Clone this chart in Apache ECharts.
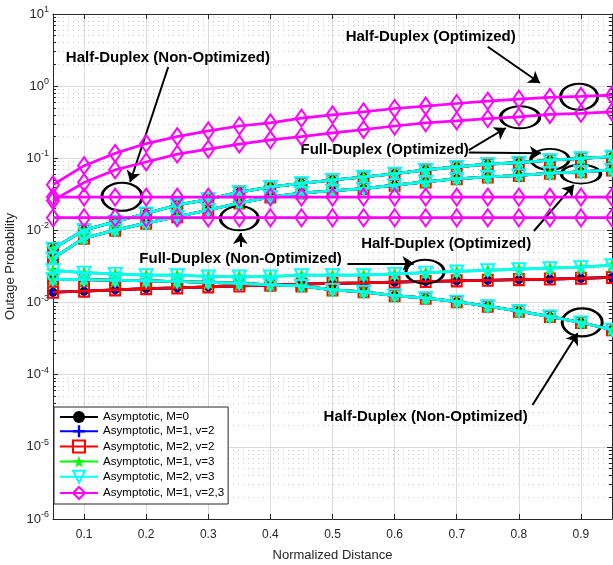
<!DOCTYPE html>
<html>
<head>
  <meta charset="utf-8" />
  <title>Outage Probability vs Normalized Distance</title>
  <script src="https://cdn.jsdelivr.net/npm/echarts@6/dist/echarts.min.js"></script>
</head>
<style type="text/css">
  body {
    margin: 0;
    background: #fff;
  }

  #main {
    width: 613px;
    height: 565px;
  }
</style>

<body>
  <div id="main"></div>
  <script>
    // ---- data ----
    var distance = [0.05, 0.10, 0.15, 0.20, 0.25, 0.30, 0.35, 0.40, 0.45, 0.50,
      0.55, 0.60, 0.65, 0.70, 0.75, 0.80, 0.85, 0.90, 0.95];
    var xTicks = [0.1, 0.2, 0.3, 0.4, 0.5, 0.6, 0.7, 0.8, 0.9];

    // M=1, v=2,3 (magenta)
    var hdOptMag = [0.043, 0.079, 0.117, 0.16, 0.20, 0.24, 0.28, 0.31, 0.36, 0.40,
      0.44, 0.49, 0.53, 0.575, 0.62, 0.66, 0.70, 0.72, 0.75];
    var fdOptMag = [0.026, 0.046, 0.069, 0.089, 0.114, 0.134, 0.157, 0.18, 0.20, 0.225,
      0.25, 0.28, 0.31, 0.33, 0.355, 0.375, 0.405, 0.42, 0.44];
    var hdNonOptMag = [0.029, 0.029, 0.029, 0.029, 0.029, 0.029, 0.029, 0.029, 0.029, 0.029,
      0.029, 0.029, 0.029, 0.029, 0.029, 0.029, 0.029, 0.029, 0.029];
    var fdNonOptMag = [0.015, 0.015, 0.015, 0.015, 0.015, 0.015, 0.015, 0.015, 0.015, 0.015,
      0.015, 0.015, 0.015, 0.015, 0.015, 0.015, 0.015, 0.015, 0.015];

    // other cases (overlapping black / blue / red / green / cyan)
    var fdOpt = [0.0056, 0.0101, 0.0132, 0.0172, 0.0225, 0.027, 0.034, 0.040, 0.045, 0.050,
      0.055, 0.061, 0.069, 0.076, 0.083, 0.087, 0.094, 0.100, 0.105];
    var hdOpt = [0.0041, 0.0078, 0.0101, 0.0126, 0.0155, 0.0192, 0.024, 0.029, 0.033, 0.0355,
      0.038, 0.0425, 0.047, 0.052, 0.055, 0.058, 0.062, 0.065, 0.069];
    var fdNonOptV3 = [0.0028, 0.0026, 0.0025, 0.0024, 0.0024, 0.0023, 0.0023, 0.0023, 0.0024, 0.0024,
      0.0024, 0.0025, 0.0026, 0.0027, 0.0028, 0.0029, 0.0030, 0.0031, 0.0033];
    var fdNonOptV2 = [0.00139, 0.00144, 0.0015, 0.00156, 0.0016, 0.00165, 0.0017, 0.00175, 0.0018, 0.00185,
      0.00188, 0.00192, 0.00196, 0.0020, 0.00204, 0.00208, 0.00212, 0.00217, 0.00223];
    var hdNonOpt = [0.0021, 0.00208, 0.00204, 0.0020, 0.00196, 0.0019, 0.00184, 0.00176, 0.0017, 0.0015,
      0.00141, 0.00125, 0.00115, 0.00103, 0.00089, 0.00076, 0.00064, 0.00053, 0.00042];

    var legendNames = ['Asymptotic, M=0', 'Asymptotic, M=1, v=2', 'Asymptotic, M=2, v=2',
      'Asymptotic, M=1, v=3', 'Asymptotic, M=2, v=3', 'Asymptotic, M=1, v=2,3'];

    // which curves each legend entry draws
    var curvesOf = [
      [fdOpt, hdOpt, hdNonOpt, fdNonOptV2],
      [fdOpt, hdOpt, hdNonOpt, fdNonOptV2],
      [fdOpt, hdOpt, hdNonOpt, fdNonOptV2],
      [fdOpt, hdOpt, hdNonOpt, fdNonOptV3],
      [fdOpt, hdOpt, hdNonOpt, fdNonOptV3],
      [hdOptMag, fdOptMag, hdNonOptMag, fdNonOptMag]
    ];

    // annotations, in data coordinates [distance, probability]
    var noteTexts = [
      ['Half-Duplex (Non-Optimized)', [0.235, 2.45]],
      ['Half-Duplex (Optimized)', [0.658, 4.84]],
      ['Full-Duplex (Optimized)', [0.584, 0.130]],
      ['Half-Duplex (Optimized)', [0.683, 0.0065]],
      ['Full-Duplex (Non-Optimized)', [0.352, 0.0040]],
      ['Half-Duplex (Non-Optimized)', [0.650, 2.62e-5]]
    ];
    var noteEllipses = [
      [[0.161, 0.0293], [40, 28]],
      [[0.350, 0.0147], [38, 24]],
      [[0.897, 0.714], [37, 26]],
      [[0.802, 0.370], [39, 22]],
      [[0.850, 0.0968], [38, 21]],
      [[0.900, 0.0605], [39, 19]],
      [[0.649, 0.00268], [38, 24]],
      [[0.902, 0.000532], [40, 28]]
    ];
    var noteArrows = [
      [[0.2355, 1.84], [0.1742, 0.0469]],
      [[0.750, 3.52], [0.834, 1.105]],
      [[0.7194, 0.130], [0.779, 0.263]],
      [[0.7194, 0.120], [0.8355, 0.117]],
      [[0.8242, 0.00982], [0.8887, 0.0427]],
      [[0.3516, 0.00589], [0.3516, 0.0092]],
      [[0.524, 0.0035], [0.6306, 0.0035]],
      [[0.822, 3.8e-5], [0.8947, 3.75e-4]]
    ];

    // ---- styles ----
    var starPath = 'path://M10,0 L12.25,6.91 L19.51,6.91 L13.63,11.18 L15.88,18.09 L10,13.82 L4.12,18.09 L6.37,11.18 L0.49,6.91 L7.75,6.91 Z';
    var plusPath = 'path://M4,0 H6 V4 H10 V6 H6 V10 H4 V6 H0 V4 H4 Z';
    var looks = [
      { color: '#000000', symbol: 'circle', size: 9, hollow: false, rotate: 0 },
      { color: '#0000ff', symbol: plusPath, size: 12, hollow: false, rotate: 0 },
      { color: '#ff0000', symbol: 'rect', size: [10, 11], hollow: true, rotate: 0 },
      { color: '#00ff00', symbol: starPath, size: 15, hollow: false, rotate: 0 },
      { color: '#00ffff', symbol: 'triangle', size: [13, 12], hollow: true, rotate: 180 },
      { color: '#ff00ff', symbol: 'diamond', size: [12, 17], hollow: true, rotate: 0 }
    ];

    function pairs(values) {
      return values.map(function (v, i) {
        return [distance[i], v];
      });
    }

    var series = [];
    legendNames.forEach(function (name, k) {
      var look = looks[k];
      curvesOf[k].forEach(function (values) {
        series.push({
          name: name,
          type: 'line',
          data: pairs(values),
          symbol: look.symbol,
          symbolSize: look.size,
          symbolRotate: look.rotate,
          symbolKeepAspect: true,
          showAllSymbol: true,
          lineStyle: { color: look.color, width: 2.7 },
          itemStyle: look.hollow ? {
            color: 'rgba(0,0,0,0)',
            borderColor: look.color,
            borderWidth: 2
          } : {
            color: look.color,
            borderWidth: 0
          },
          emphasis: { disabled: true },
          z: 2 + k
        });
      });
    });

    // annotation layer
    series.push({
      name: 'notes',
      type: 'line',
      data: [],
      silent: true,
      z: 10,
      markLine: {
        silent: true,
        symbol: ['none', 'arrow'],
        symbolSize: 11,
        label: { show: false },
        lineStyle: { color: '#000', width: 2, type: 'solid' },
        emphasis: { disabled: true },
        data: noteArrows.map(function (a) {
          return [{ coord: a[0] }, { coord: a[1] }];
        })
      },
      markPoint: {
        silent: true,
        data: noteEllipses.map(function (e) {
          return {
            coord: e[0],
            symbol: 'circle',
            symbolSize: e[1],
            itemStyle: { color: 'rgba(0,0,0,0)', borderColor: '#000', borderWidth: 2.5 },
            label: { show: false }
          };
        }).concat(noteTexts.map(function (t) {
          return {
            coord: t[1],
            symbol: 'rect',
            symbolSize: 1,
            itemStyle: { color: 'rgba(0,0,0,0)' },
            label: {
              show: true,
              position: 'inside',
              formatter: t[0],
              color: '#000',
              fontSize: 15,
              fontWeight: 'bold',
              fontFamily: 'Liberation Sans'
            }
          };
        }))
      }
    });

    var axisColor = '#262626';
    var font = 'Liberation Sans';

    var option = {
      animation: false,
      backgroundColor: '#fff',
      textStyle: { fontFamily: font },
      grid: { left: 53, right: 1, top: 14, bottom: 46, outerBoundsMode: 'none' },
      legend: {
        orient: 'vertical',
        left: 54,
        top: 407,
        itemWidth: 38,
        itemHeight: 15,
        itemGap: 2.2,
        padding: [4, 4, 4, 5],
        backgroundColor: '#fff',
        borderColor: axisColor,
        borderWidth: 1,
        borderRadius: 0,
        selectedMode: false,
        textStyle: { fontSize: 11.6, color: '#000', fontFamily: font },
        data: legendNames
      },
      xAxis: [{
        type: 'value',
        min: 0.05,
        max: 0.95,
        name: 'Normalized Distance',
        nameLocation: 'middle',
        nameGap: 30,
        nameMoveOverlap: false,
        nameTextStyle: { fontSize: 13, color: axisColor },
        axisLine: { show: true, onZero: false, lineStyle: { color: axisColor } },
        axisTick: { show: true, inside: true, length: 5, customValues: xTicks, lineStyle: { color: axisColor } },
        axisLabel: {
          customValues: xTicks, fontSize: 12, color: axisColor, margin: 10,
          formatter: function (v) { return v.toFixed(1); }
        },
        splitLine: { show: true, lineStyle: { color: '#dcdcdc' } }
      }, {
        type: 'value',
        position: 'top',
        min: 0.05,
        max: 0.95,
        axisLine: { show: true, onZero: false, lineStyle: { color: axisColor } },
        axisTick: { show: true, inside: true, length: 5, customValues: xTicks, lineStyle: { color: axisColor } },
        axisLabel: { show: false, customValues: xTicks },
        splitLine: { show: false }
      }],
      yAxis: [{
        type: 'log',
        logBase: 10,
        min: 1e-6,
        max: 10,
        interval: 1,
        name: 'Outage Probability',
        nameLocation: 'middle',
        nameGap: 36,
        nameMoveOverlap: false,
        nameTextStyle: { fontSize: 13, color: axisColor },
        axisLine: { show: true, onZero: false, lineStyle: { color: axisColor } },
        axisTick: { show: true, inside: true, length: 5, lineStyle: { color: axisColor } },
        minorTick: { show: true, splitNumber: 9, length: 3, lineStyle: { color: axisColor } },
        axisLabel: {
          margin: 4,
          formatter: function (v) {
            return '{b|10}{s|' + Math.round(Math.log10(v)) + '}';
          },
          rich: {
            b: { fontSize: 13, color: axisColor, fontFamily: font },
            s: { fontSize: 9, color: axisColor, fontFamily: font, padding: [0, 0, 9, 0] }
          }
        },
        splitLine: { show: true, lineStyle: { color: '#dcdcdc' } },
        minorSplitLine: { show: true, lineStyle: { color: '#c8c8c8', type: [1, 4] } }
      }, {
        type: 'log',
        logBase: 10,
        min: 1e-6,
        max: 10,
        interval: 1,
        position: 'right',
        axisLine: { show: true, onZero: false, lineStyle: { color: axisColor } },
        axisTick: { show: true, inside: true, length: 5, lineStyle: { color: axisColor } },
        minorTick: { show: true, splitNumber: 9, length: 3, lineStyle: { color: axisColor } },
        axisLabel: { show: false },
        splitLine: { show: false }
      }],
      series: series
    };

    var myChart = echarts.init(document.getElementById('main'));
    myChart.setOption(option);
  </script>
</body>

</html>
